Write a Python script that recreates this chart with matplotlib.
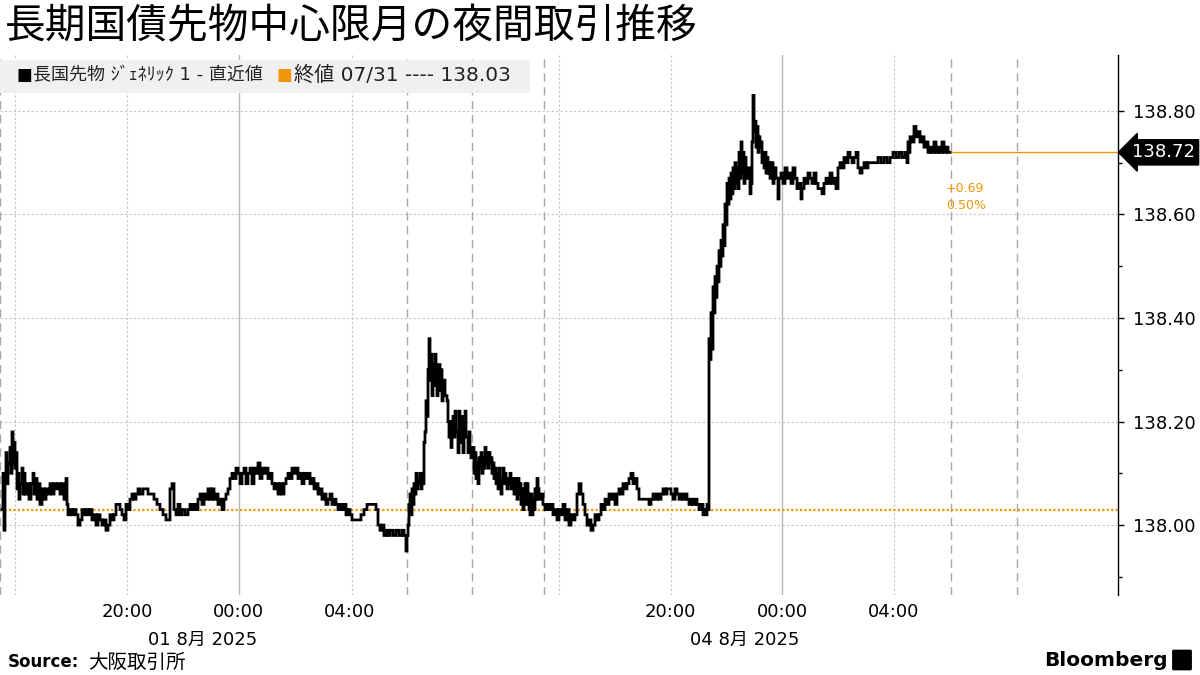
import matplotlib
matplotlib.use("Agg")
import matplotlib.pyplot as plt
from matplotlib.patches import Rectangle, FancyBboxPatch

plt.rcParams['font.family'] = ['Noto Sans CJK JP', 'DejaVu Sans']
LATIN_FIRST = ['DejaVu Sans', 'Noto Sans CJK JP']

# ---------------- data ----------------
# feed index (chart time axis, 28 units per trading hour) and price
idx = [2, 3, 4, 5, 6, 7, 8, 10, 11, 12, 13, 14, 15, 16, 17, 18, 19, 20, 22, 23, 24, 25, 27, 29, 31, 33, 34, 35, 37, 38,
       40, 42, 44, 46, 48, 50, 52, 54, 56, 58, 60, 62, 64, 66, 67, 68, 70, 72, 74, 76, 78, 80, 82, 84, 86, 88, 90, 92, 94, 96,
       98, 100, 102, 104, 106, 108, 110, 112, 114, 116, 118, 120, 122, 124, 126, 128, 130, 132, 134, 136, 138, 140, 143, 146, 148, 151, 154, 157, 160, 163,
       166, 168, 170, 172, 174, 176, 178, 180, 182, 185, 188, 190, 192, 194, 196, 198, 200, 202, 204, 206, 208, 210, 212, 214, 216, 218, 220, 222, 224, 226,
       228, 230, 232, 234, 236, 238, 240, 242, 244, 246, 248, 250, 252, 254, 256, 258, 260, 262, 264, 266, 268, 270, 272, 274, 276, 278, 280, 282, 284, 286,
       288, 290, 292, 294, 296, 298, 300, 302, 304, 306, 308, 310, 312, 314, 316, 318, 320, 322, 324, 326, 328, 330, 332, 334, 336, 338, 340, 342, 344, 346,
       348, 350, 352, 355, 358, 361, 364, 367, 370, 373, 376, 378, 380, 382, 384, 386, 388, 390, 393, 396, 399, 402, 404, 406, 407,
       408, 409, 410, 411, 412, 413, 414, 415, 416, 417, 418, 419, 420, 421, 422, 423, 424, 425, 426, 427, 428, 429, 430, 431, 432, 433, 434, 435, 436, 437,
       438, 440, 441, 442, 443, 445, 447, 448, 449, 450, 451, 452, 453, 454, 455, 456, 458, 459, 460, 461, 462, 463, 464, 465, 466, 468, 469, 470, 471, 472,
       474, 475, 476, 477, 478, 479, 480, 481, 482, 483, 484, 485, 486, 487, 488, 489, 490, 491, 492, 493, 494, 495, 496, 497, 498, 499, 500, 501, 502, 503,
       504, 505, 506, 507, 508, 509, 510, 511, 512, 513, 514, 515, 516, 517, 518, 519, 520, 521, 522, 523, 524, 525, 526, 527, 528, 529, 530, 531, 532, 533,
       534, 535, 536, 537, 538, 539, 541, 543, 545, 547, 549, 551, 553, 555, 557, 559, 561, 563, 565, 567, 569, 571, 573, 575, 577, 579, 581, 583, 585, 587,
       589, 591, 593, 595, 597, 599, 601, 603, 605, 607, 609, 611, 613, 615, 617, 619, 621, 623, 625, 627, 629, 631, 633, 635, 637, 639, 641, 644, 647, 649,
       651, 653, 655, 657, 659, 661, 663, 665, 667, 669, 671, 673, 675, 677, 679, 681, 683, 685, 687, 689, 691, 693, 695, 697, 699, 701, 703, 705, 706, 707,
       708, 709, 710, 711, 712, 713, 714, 715, 716, 717, 718, 719, 720, 721, 722, 723, 724, 725, 726, 727, 728, 729, 730, 731, 732, 733, 734, 735, 736, 737,
       738, 739, 740, 741, 742, 743, 744, 745, 746, 748, 750, 751, 752, 753, 754, 755, 756, 757, 758, 759, 760, 761, 762, 763, 764, 765, 766, 767, 768, 769,
       770, 772, 773, 774, 776, 778, 779, 781, 783, 785, 787, 789, 791, 793, 795, 797, 799, 801, 802, 804, 806, 808, 810, 812, 814, 816, 818, 820, 822, 824,
       826, 828, 830, 832, 834, 836, 838, 840, 842, 844, 846, 848, 850, 852, 854, 856, 858, 860, 862, 864, 866, 868, 870, 872, 875, 878, 881, 884, 887, 890,
       893, 896, 899, 902, 905, 907, 908, 909, 910, 912, 914, 916, 918, 920, 922, 924, 926, 928, 930, 932, 934, 936, 938, 940, 942, 944, 946, 948, 950]

price = [138.03, 138.10, 137.99, 138.09, 138.14, 138.08, 138.12, 138.15, 138.10, 138.18, 138.12, 138.16, 138.11, 138.14, 138.07, 138.10, 138.05, 138.08, 138.11, 138.06, 138.10, 138.06, 138.08, 138.05, 138.08, 138.10, 138.06, 138.09, 138.05, 138.08,
         138.04, 138.07, 138.05, 138.07, 138.06, 138.08, 138.06, 138.08, 138.07, 138.08, 138.06, 138.08, 138.05, 138.09, 138.04, 138.02, 138.03, 138.02, 138.03, 138.02, 138.00, 138.01, 138.03, 138.02, 138.03, 138.02, 138.03, 138.01, 138.02, 138.00,
         138.02, 138.01, 138.00, 138.01, 137.99, 138.00, 138.02, 138.01, 138.02, 138.04, 138.04, 138.03, 138.02, 138.01, 138.04, 138.03, 138.05, 138.06, 138.05, 138.06, 138.07, 138.06, 138.07, 138.07, 138.06, 138.06, 138.05, 138.04, 138.03, 138.02,
         138.01, 138.01, 138.07, 138.08, 138.03, 138.02, 138.04, 138.02, 138.03, 138.02, 138.03, 138.04, 138.03, 138.04, 138.03, 138.05, 138.06, 138.04, 138.06, 138.05, 138.07, 138.05, 138.07, 138.05, 138.06, 138.04, 138.05, 138.03, 138.05, 138.06,
         138.07, 138.09, 138.10, 138.09, 138.11, 138.10, 138.08, 138.10, 138.11, 138.08, 138.10, 138.11, 138.08, 138.11, 138.10, 138.12, 138.09, 138.11, 138.10, 138.11, 138.09, 138.10, 138.08, 138.07, 138.08, 138.06, 138.08, 138.06, 138.08, 138.09,
         138.10, 138.09, 138.11, 138.10, 138.11, 138.09, 138.10, 138.08, 138.10, 138.09, 138.10, 138.08, 138.09, 138.07, 138.08, 138.06, 138.07, 138.05, 138.06, 138.04, 138.05, 138.06, 138.04, 138.05, 138.04, 138.03, 138.04, 138.03, 138.04, 138.02,
         138.03, 138.02, 138.01, 138.01, 138.01, 138.02, 138.03, 138.04, 138.04, 138.04, 138.03, 138.00, 137.99, 138.00, 137.98, 137.99, 137.98, 137.99, 137.98, 137.99, 137.98, 137.99, 137.98, 137.95, 137.98,
         138.00, 138.04, 138.06, 138.02, 138.07, 138.04, 138.08, 138.06, 138.10, 138.07, 138.09, 138.08, 138.10, 138.07, 138.10, 138.08, 138.16, 138.18, 138.24, 138.21, 138.30, 138.36, 138.28, 138.33, 138.25, 138.31, 138.27, 138.33, 138.29, 138.25,
         138.31, 138.26, 138.30, 138.24, 138.28, 138.25, 138.24, 138.20, 138.17, 138.20, 138.15, 138.18, 138.21, 138.17, 138.22, 138.18, 138.14, 138.22, 138.20, 138.16, 138.21, 138.14, 138.19, 138.22, 138.17, 138.14, 138.18, 138.15, 138.13, 138.15,
         138.10, 138.14, 138.09, 138.12, 138.08, 138.13, 138.11, 138.14, 138.10, 138.13, 138.11, 138.15, 138.12, 138.14, 138.11, 138.14, 138.12, 138.13, 138.10, 138.12, 138.09, 138.11, 138.08, 138.10, 138.07, 138.11, 138.08, 138.06, 138.09, 138.11,
         138.08, 138.10, 138.09, 138.07, 138.09, 138.08, 138.10, 138.07, 138.09, 138.08, 138.06, 138.09, 138.07, 138.05, 138.09, 138.06, 138.08, 138.04, 138.07, 138.03, 138.05, 138.08, 138.04, 138.08, 138.06, 138.03, 138.02, 138.06, 138.02, 138.05,
         138.03, 138.07, 138.05, 138.09, 138.07, 138.05, 138.06, 138.04, 138.03, 138.04, 138.03, 138.04, 138.02, 138.03, 138.01, 138.03, 138.02, 138.04, 138.01, 138.03, 138.00, 138.02, 138.01, 138.02, 138.06, 138.08, 138.06, 138.04, 138.02, 138.00,
         138.01, 137.99, 138.00, 138.02, 138.01, 138.02, 138.04, 138.03, 138.05, 138.04, 138.06, 138.05, 138.06, 138.04, 138.06, 138.07, 138.06, 138.08, 138.07, 138.08, 138.09, 138.10, 138.08, 138.09, 138.07, 138.05, 138.05, 138.05, 138.05, 138.04,
         138.05, 138.06, 138.05, 138.06, 138.05, 138.06, 138.07, 138.06, 138.07, 138.07, 138.06, 138.05, 138.07, 138.06, 138.05, 138.06, 138.05, 138.06, 138.05, 138.04, 138.05, 138.04, 138.05, 138.04, 138.03, 138.04, 138.02, 138.03, 138.02, 138.04,
         138.03, 138.36, 138.32, 138.41, 138.34, 138.46, 138.41, 138.48, 138.44, 138.50, 138.47, 138.53, 138.50, 138.55, 138.52, 138.58, 138.54, 138.62, 138.58, 138.66, 138.62, 138.67, 138.63, 138.68, 138.64, 138.69, 138.65, 138.70, 138.66, 138.69,
         138.65, 138.72, 138.67, 138.74, 138.68, 138.72, 138.66, 138.71, 138.67, 138.69, 138.64, 138.66, 138.74, 138.83, 138.76, 138.78, 138.73, 138.77, 138.72, 138.75, 138.73, 138.74, 138.70, 138.72, 138.69, 138.72, 138.68, 138.71, 138.68, 138.70,
         138.67, 138.70, 138.66, 138.69, 138.67, 138.63, 138.67, 138.68, 138.66, 138.69, 138.67, 138.68, 138.66, 138.69, 138.67, 138.65, 138.66, 138.63, 138.65, 138.67, 138.66, 138.68, 138.67, 138.66, 138.68, 138.66, 138.65, 138.65, 138.64, 138.66,
         138.67, 138.66, 138.68, 138.66, 138.67, 138.65, 138.69, 138.70, 138.69, 138.71, 138.70, 138.72, 138.71, 138.70, 138.71, 138.72, 138.69, 138.68, 138.69, 138.70, 138.69, 138.70, 138.70, 138.70, 138.70, 138.71, 138.70, 138.71, 138.70, 138.71,
         138.72, 138.71, 138.72, 138.71, 138.72, 138.70, 138.74, 138.72, 138.75, 138.74, 138.77, 138.75, 138.76, 138.74, 138.75, 138.73, 138.74, 138.72, 138.73, 138.72, 138.74, 138.72, 138.73, 138.72, 138.74, 138.72, 138.73, 138.72, 138.72]

prev_close = 138.03
last_value = 138.72
change_abs = "+0.69"
change_pct = "0.50%"

tick_labels = ["20:00", "00:00", "04:00", "20:00", "00:00", "04:00"]
tick_idx = [127, 238, 350, 670, 782, 894]
date_labels = ["01 8月 2025", "04 8月 2025"]
date_idx = [203, 745]
session_breaks = [0, 407, 472, 544, 951, 1017]   # dashed
hour_lines_dotted = [15, 127, 352, 559, 671, 894]
midnight_lines = [239, 782]
yticks = [138.00, 138.20, 138.40, 138.60, 138.80]
yminor = [137.90, 138.10, 138.30, 138.50, 138.70]

title = "長期国債先物中心限月の夜間取引推移"
series_name = "長国先物 ｼﾞｪﾈﾘｯｸ 1 - 直近値"
ref_name = "終値 07/31 ---- 138.03"
source = "大阪取引所"

ORANGE = "#F0960E"

# ---------------- figure ----------------
W, H = 1200, 675
fig = plt.figure(figsize=(12, 6.75), dpi=100)
ax = fig.add_axes([0, 80 / H, 1118 / W, 540 / H])
ax.set_xlim(0, 1118)
ax.set_ylim(137.865, 138.908)

# grid
for v in yticks:
    ax.axhline(v, color="#c4c4c4", lw=0.8, ls=(0, (2, 2)), zorder=1)
for v in session_breaks:
    ax.axvline(v, color="#a8a8a8", lw=1.0, ls=(0, (6, 4)), zorder=1)
for v in hour_lines_dotted:
    ax.axvline(v, color="#c4c4c4", lw=0.8, ls=(0, (2, 2)), zorder=1)
for v in midnight_lines:
    ax.axvline(v, color="#b8b8b8", lw=1.0, zorder=1)

# reference (previous close)
ax.axhline(prev_close, color=ORANGE, lw=1.6, ls=(0, (1, 1)), zorder=2)

# series
ax.plot(idx, price, color="black", lw=2.0, drawstyle="steps-post", zorder=4,
        solid_joinstyle="miter")

# last value line and change
ax.plot([idx[-1], 1118], [last_value, last_value], color=ORANGE, lw=1.0, zorder=3)
ax.text(idx[-1] - 4, last_value - 0.069, change_abs, color=ORANGE, fontsize=9,
        family=["DejaVu Sans"], va="center", ha="left")
ax.text(idx[-1] - 4, last_value - 0.102, change_pct, color=ORANGE, fontsize=9,
        family=["DejaVu Sans"], va="center", ha="left")

# axes styling
for s in ["top", "left", "bottom"]:
    ax.spines[s].set_visible(False)
ax.spines["right"].set_color("black")
ax.spines["right"].set_linewidth(1.0)
ax.yaxis.tick_right()
ax.set_yticks(yticks)
ax.set_yticklabels([f"{v:.2f}" for v in yticks], fontsize=13, family=["DejaVu Sans"])
ax.set_yticks(yminor, minor=True)
ax.tick_params(axis="y", which="major", length=4, width=1, direction="out", pad=7, colors="black")
ax.tick_params(axis="y", which="minor", length=3, width=1, direction="out", colors="black")
ax.set_xticks(tick_idx)
ax.set_xticklabels(tick_labels, fontsize=13, family=["DejaVu Sans"])
ax.tick_params(axis="x", length=0, pad=6)

# last value tag
ax.text(1118 + 14, last_value, f"{last_value:.2f}", color="white", fontsize=13,
        family=["DejaVu Sans"], va="center", ha="left", clip_on=False,
        bbox=dict(boxstyle="larrow,pad=0.2", fc="black", ec="black"), zorder=10)

# date labels
for d, x in zip(date_labels, date_idx):
    ax.text(x, -0.083, d, transform=ax.get_xaxis_transform(), fontsize=13,
            ha="center", va="center", family=LATIN_FIRST)

# title
fig.text(5 / W, 1 - 27 / H, title, fontsize=29.3, ha="left", va="center")

# legend box
fig.patches.append(Rectangle((0, 1 - 93 / H), 530 / W, 33 / H, transform=fig.transFigure,
                             fc="#f0f0f0", ec="none", zorder=5))
fig.text(17 / W, 1 - 75 / H, "■", fontsize=12, color="black", ha="left", va="center", zorder=6,
         family=["DejaVu Sans"])
fig.text(33 / W, 1 - 75 / H, series_name, fontsize=13, color="#222222", ha="left", va="center",
         zorder=6, family=LATIN_FIRST)
fig.text(277 / W, 1 - 75 / H, "■", fontsize=12, color=ORANGE, ha="left", va="center", zorder=6,
         family=["DejaVu Sans"])
fig.text(294 / W, 1 - 75 / H, ref_name, fontsize=14.5, color="#222222", ha="left", va="center",
         zorder=6, family=LATIN_FIRST)

# source
fig.text(8 / W, 1 - 662 / H, "Source:", fontsize=12, fontweight="bold", ha="left", va="center",
         family=["DejaVu Sans"])
fig.text(88 / W, 1 - 662 / H, source, fontsize=14, ha="left", va="center")

# Bloomberg logo
fig.text(1168 / W, 1 - 660 / H, "Bloomberg", fontsize=14.5, fontweight="bold", ha="right",
         va="center", family=["DejaVu Sans"])
fig.patches.append(FancyBboxPatch((1174 / W, 1 - 669 / H), 16 / W, 18 / H,
                                  boxstyle="round,pad=0.001", transform=fig.transFigure,
                                  fc="black", ec="black"))

fig.savefig("out.png", dpi=100)
